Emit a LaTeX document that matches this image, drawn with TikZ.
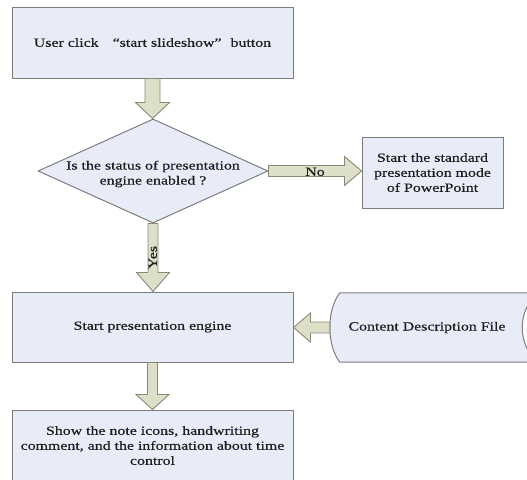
\documentclass[tikz,border=0pt]{standalone}
\usepackage{fontspec}
\setmainfont{Liberation Serif}[FakeStretch=1.27,FakeBold=0.5]
\usetikzlibrary{shapes.geometric,calc,backgrounds}
\definecolor{boxfill}{RGB}{231,236,248}
\definecolor{boxline}{RGB}{125,125,125}
\definecolor{arrfill}{RGB}{221,223,200}
\definecolor{arrline}{RGB}{135,138,118}
\definecolor{txt}{RGB}{30,30,30}
% vertical block arrow: from anchor, to anchor, shaft half, head half, head length
\newcommand\blkdown[5]{%
  \draw[blockarrow] ($(#1)+(-#3,0)$) -- ($(#1 |- #2)+(-#3,-#5)$) -- ($(#1 |- #2)+(-#4,-#5)$) -- (#1 |- #2) -- ($(#1 |- #2)+(#4,-#5)$) -- ($(#1 |- #2)+(#3,-#5)$) -- ($(#1)+(#3,0)$) -- cycle;}
% horizontal block arrow: from anchor, to anchor, shaft half, head half, signed head length
\newcommand\blkhoriz[5]{%
  \draw[blockarrow] ($(#1)+(0,-#3)$) -- ($(#2 |- #1)+(#5,-#3)$) -- ($(#2 |- #1)+(#5,-#4)$) -- (#2 |- #1) -- ($(#2 |- #1)+(#5,#4)$) -- ($(#2 |- #1)+(#5,#3)$) -- ($(#1)+(0,#3)$) -- cycle;}
\begin{document}
\begin{tikzpicture}[x=1pt,y=-1pt,
  font=\fontsize{12.5}{15}\selectfont,
  shapeline/.style={draw=boxline, fill=boxfill, line width=1pt},
  box/.style={shapeline, rectangle, inner sep=2pt, align=center, text=txt},
  blockarrow/.style={draw=arrline, fill=arrfill, line width=0.9pt, line join=miter},
  lbl/.style={text=txt, inner sep=1pt, align=center}]
\useasboundingbox (0,0) rectangle (527,479);
\clip (0,0) rectangle (527,479);

\node[box, minimum width=281pt, minimum height=71pt] (b1) at (152.5,42.5)
  {User click\hspace{14pt}“start slideshow”\hspace{9pt}button};
\node[shapeline, diamond, inner sep=0pt, minimum width=230pt, minimum height=104pt] (d) at (153,171) {};
\node[lbl] (dt) at ($(d.center)+(0,3)$) {Is the status of presentation\\engine enabled ?};
\node[box, minimum width=141pt, minimum height=71pt] (r) at (432.5,172.5)
  {Start the standard\\presentation mode\\of PowerPoint};
\node[box, minimum width=281pt, minimum height=70pt] (b2) at (152.5,327) {Start presentation engine};
\node[box, minimum width=281pt, minimum height=71pt] (b3) at (152.5,445.5)
  {Show the note icons, handwriting\\comment, and the information about time\\control};
\node[lbl, minimum width=194pt, minimum height=69pt] (c) at (427,327.5) {Content Description File};
\begin{scope}[on background layer]
\draw[shapeline] ($(c.north west)+(10,0)$) -- ($(c.north east)+(14,0)$)
  .. controls ($(c.east)+(-7.3,-17.5)$) and ($(c.east)+(-7.3,17.5)$) .. ($(c.south east)+(14,0)$)
  -- ($(c.south west)+(10,0)$)
  .. controls ($(c.west)+(-3.3,17.5)$) and ($(c.west)+(-3.3,-17.5)$) .. cycle;
\end{scope}

\blkdown{b1.south}{d.north}{7.5}{17}{16}
\blkdown{d.south}{b2.north}{5}{16.5}{19}
\blkdown{b2.south}{b3.north}{5}{16.5}{15}
\blkhoriz{d.east}{r.west}{5.5}{14.5}{-17}
\blkhoriz{c.west}{b2.east}{5.5}{14.5}{17}

\node[lbl, inner sep=0pt] (no) at ($(d.east)!0.5!(r.west)$) {No};
\node[lbl, inner sep=0pt, rotate=90] (yes) at ($(d.south)!0.5!(b2.north)$) {Yes};
\end{tikzpicture}
\end{document}
